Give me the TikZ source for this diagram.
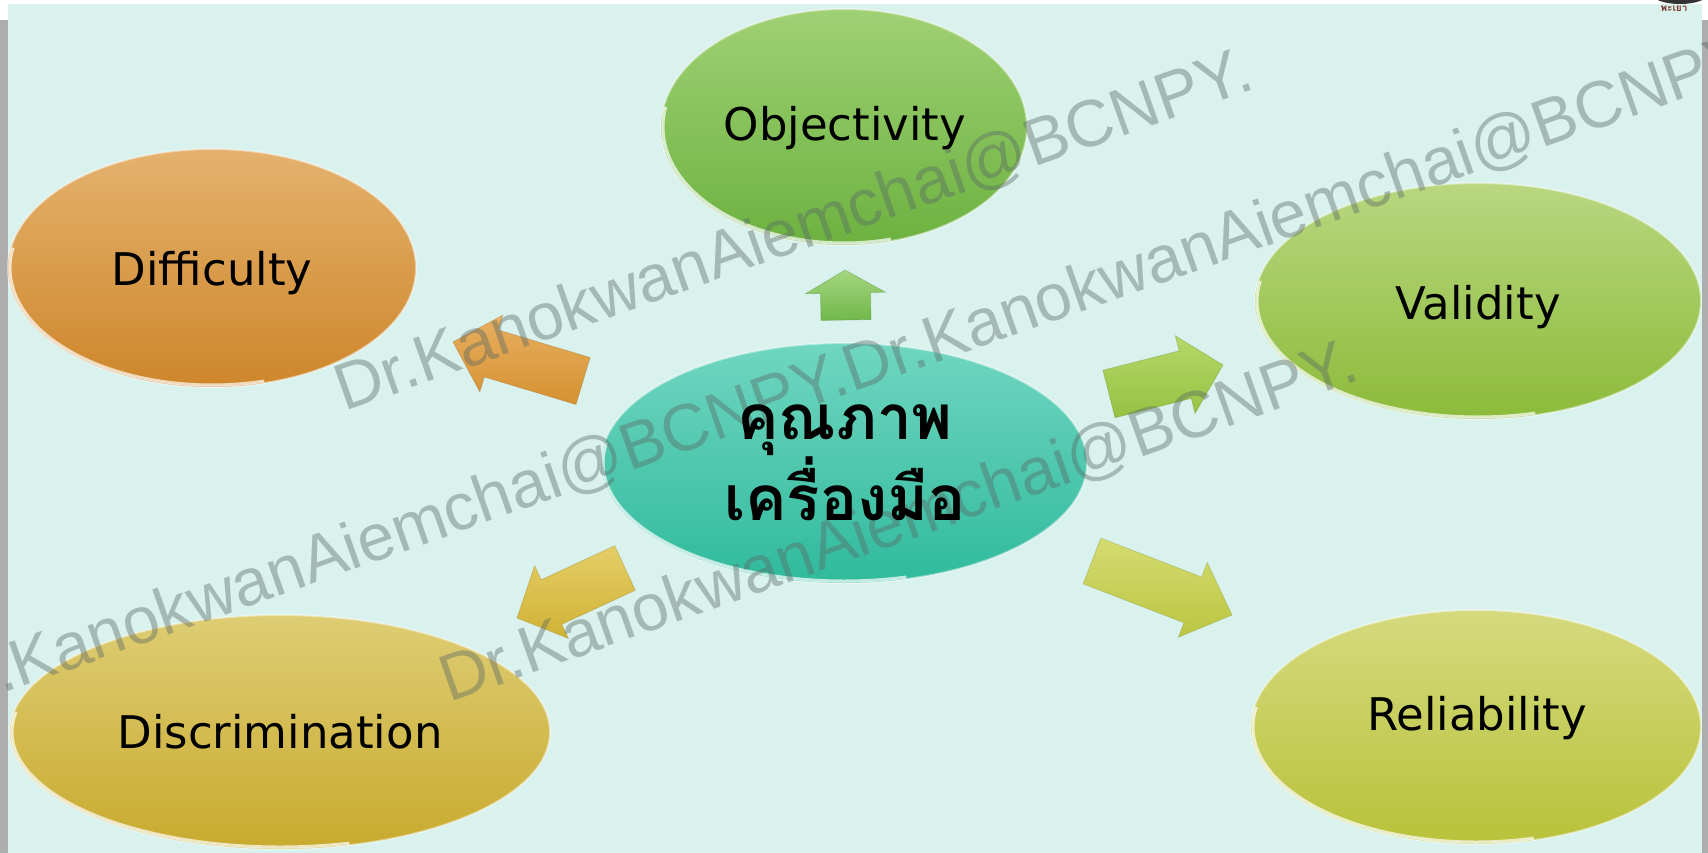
\documentclass[tikz,border=0pt]{standalone}
\usepackage{fontspec}
\usetikzlibrary{calc}
\newfontfamily\labfont{DejaVu Sans}
\newfontfamily\wmfont{Liberation Sans}
\newfontfamily\thaifont[Script=Thai]{Loma}
\definecolor{bgmint}{RGB}{218,242,238}
\definecolor{stripgray}{RGB}{173,173,173}
\definecolor{wmgray}{RGB}{90,105,102}
\definecolor{logored}{RGB}{120,50,40}
\definecolor{objT}{RGB}{160,208,116}\definecolor{objB}{RGB}{108,178,64}
\definecolor{difT}{RGB}{228,178,110}\definecolor{difB}{RGB}{206,134,42}
\definecolor{valT}{RGB}{184,215,128}\definecolor{valB}{RGB}{140,187,58}
\definecolor{ctrT}{RGB}{112,214,192}\definecolor{ctrB}{RGB}{48,186,156}
\definecolor{disT}{RGB}{222,205,116}\definecolor{disB}{RGB}{200,170,46}
\definecolor{relT}{RGB}{213,218,126}\definecolor{relB}{RGB}{184,194,58}
\definecolor{auT}{RGB}{165,214,128}\definecolor{auB}{RGB}{112,184,74}
\definecolor{alT}{RGB}{232,176,96}\definecolor{alB}{RGB}{214,145,50}
\definecolor{arT}{RGB}{182,216,104}\definecolor{arB}{RGB}{148,194,66}
\definecolor{adlT}{RGB}{228,206,104}\definecolor{adlB}{RGB}{208,178,52}
\definecolor{adrT}{RGB}{212,220,112}\definecolor{adrB}{RGB}{186,198,66}
\newcommand{\blockarr}[3]{%
  \coordinate (#1-b) at ($(#2)!#3!(#1)$);
}
\newcommand{\bubblerim}[3]{%
  \draw[white,draw opacity=0.7,line width=3pt] (#1) ++(75:#2 and #3) arc[start angle=75,end angle=190,x radius=#2,y radius=#3];
}
\begin{document}
\begin{tikzpicture}[x=1pt,y=-1pt,
  bubble/.style 2 args={top color=#1,bottom color=#2,draw=white,draw opacity=0.45,line width=2pt},
  barrow/.style 2 args={top color=#1,bottom color=#2,draw=#2!75!black,draw opacity=0.35,line width=0.8pt},
  lab/.style={font=\labfont\fontsize{45}{54}\selectfont,text=black,anchor=base,inner sep=0pt},
  wm/.style={font=\wmfont\fontsize{66}{78}\selectfont,text=wmgray,text opacity=0.42,anchor=base west,rotate=19.5,inner sep=0pt}]
\useasboundingbox (0,0) rectangle (1708,853);
\clip (0,0) rectangle (1708,853);
% background
\fill[white] (0,0) rectangle (1708,853);
\fill[bgmint] (8,4) rectangle (1702,853);
\fill[stripgray] (0,20) rectangle (8,853);
\fill[stripgray] (1702,20) rectangle (1708,853);
\fill[black!80] (1680,-6) ellipse [x radius=28, y radius=10];
\node[font=\thaifont\bfseries\fontsize{10}{12}\selectfont,text=logored,inner sep=0pt] (logo) at (1674,9) {พะเยา};
% bubbles
\coordinate (cobj) at (844,127); \coordinate (cdif) at (212,268);
\coordinate (cval) at (1478,301); \coordinate (cctr) at (844,463);
\coordinate (cdis) at (280,732); \coordinate (crel) at (1476,727);
\path[bubble={objT}{objB}] (cobj) ellipse [x radius=183, y radius=118];
\path[bubble={difT}{difB}] (cdif) ellipse [x radius=204, y radius=119];
\path[bubble={valT}{valB}] (cval) ellipse [x radius=223, y radius=118];
\path[bubble={ctrT}{ctrB}] (cctr) ellipse [x radius=243, y radius=120];
\path[bubble={disT}{disB}] (cdis) ellipse [x radius=270, y radius=117];
\path[bubble={relT}{relB}] (crel) ellipse [x radius=225, y radius=117];
\bubblerim{cobj}{181}{116}
\bubblerim{cdif}{202}{117}
\bubblerim{cval}{221}{116}
\bubblerim{cctr}{241}{118}
\bubblerim{cdis}{268}{115}
\bubblerim{crel}{223}{115}
% block arrows
\coordinate (ut) at (846,320); \coordinate (up) at (845,270);
\coordinate (lt) at (583,381); \coordinate (lp) at (453,342);
\coordinate (rt) at (1109,394); \coordinate (rp) at (1223,365);
\coordinate (dlt) at (625,568); \coordinate (dlp) at (517,618);
\coordinate (drt) at (1092,561); \coordinate (drp) at (1232,615);
\blockarr{ut}{up}{23pt}
\blockarr{lt}{lp}{40pt}
\blockarr{rt}{rp}{39pt}
\blockarr{dlt}{dlp}{38pt}
\blockarr{drt}{drp}{42pt}
\path[barrow={auT}{auB}]
  ($(ut)!25pt!90:(up)$) -- ($(ut-b)!25pt!90:(up)$) -- ($(ut-b)!40pt!90:(up)$) -- (up)
  -- ($(ut-b)!40pt!-90:(up)$) -- ($(ut-b)!25pt!-90:(up)$) -- ($(ut)!25pt!-90:(up)$) -- cycle;
\path[barrow={alT}{alB}]
  ($(lt)!24.5pt!90:(lp)$) -- ($(lt-b)!24.5pt!90:(lp)$) -- ($(lt-b)!40pt!90:(lp)$) -- (lp)
  -- ($(lt-b)!40pt!-90:(lp)$) -- ($(lt-b)!24.5pt!-90:(lp)$) -- ($(lt)!24.5pt!-90:(lp)$) -- cycle;
\path[barrow={arT}{arB}]
  ($(rt)!24.5pt!90:(rp)$) -- ($(rt-b)!24.5pt!90:(rp)$) -- ($(rt-b)!40pt!90:(rp)$) -- (rp)
  -- ($(rt-b)!40pt!-90:(rp)$) -- ($(rt-b)!24.5pt!-90:(rp)$) -- ($(rt)!24.5pt!-90:(rp)$) -- cycle;
\path[barrow={adlT}{adlB}]
  ($(dlt)!24.5pt!90:(dlp)$) -- ($(dlt-b)!24.5pt!90:(dlp)$) -- ($(dlt-b)!40pt!90:(dlp)$) -- (dlp)
  -- ($(dlt-b)!40pt!-90:(dlp)$) -- ($(dlt-b)!24.5pt!-90:(dlp)$) -- ($(dlt)!24.5pt!-90:(dlp)$) -- cycle;
\path[barrow={adrT}{adrB}]
  ($(drt)!24.5pt!90:(drp)$) -- ($(drt-b)!24.5pt!90:(drp)$) -- ($(drt-b)!40pt!90:(drp)$) -- (drp)
  -- ($(drt-b)!40pt!-90:(drp)$) -- ($(drt-b)!24.5pt!-90:(drp)$) -- ($(drt)!24.5pt!-90:(drp)$) -- cycle;
% watermark
\node[wm] (wmA) at (344,412) {Dr.KanokwanAiemchai@BCNPY.};
\node[wm] (wmB) at (-60,716) {Dr.KanokwanAiemchai@BCNPY.Dr.KanokwanAiemchai@BCNPY.};
\node[wm] (wmC) at (449,703) {Dr.KanokwanAiemchai@BCNPY.};
% labels
\node[lab] (obj) at (845,141) {Objectivity};
\node[lab] (dif) at (212,285) {Difficulty};
\node[lab] (val) at (1478,319) {Validity};
\node[lab] (rel) at (1477,730) {Reliability};
\node[lab] (dis) at (280,748) {Discrimination};
\node[font=\thaifont\bfseries\fontsize{62}{72}\selectfont,align=center,inner sep=0pt] (ctr) at (845,463) {คุณภาพ\\เครื่องมือ};
\end{tikzpicture}
\end{document}
